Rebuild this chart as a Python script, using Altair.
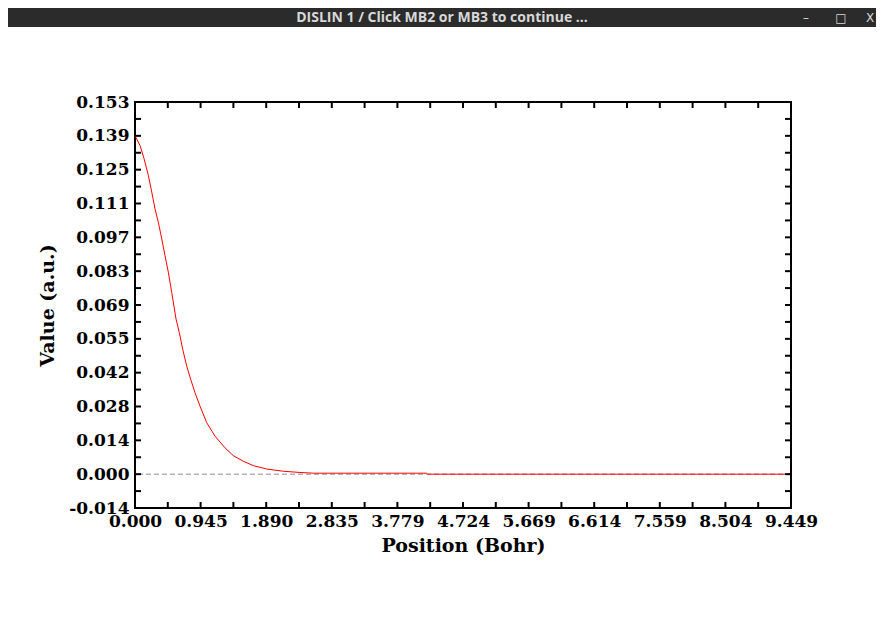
import altair as alt
import pandas as pd

# ---- data ----
position = [0.000, 0.072, 0.130, 0.192, 0.241, 0.288, 0.336, 0.385, 0.432, 0.480,
            0.529, 0.591, 0.638, 0.687, 0.745, 0.802, 0.864, 0.936, 1.033, 1.152,
            1.296, 1.416, 1.560, 1.704, 1.897, 2.136, 2.376, 2.568, 4.200, 4.215,
            9.4486]
value = [0.1387, 0.1348, 0.1294, 0.1225, 0.1157, 0.1088, 0.1033, 0.0965, 0.0896, 0.0828,
         0.0745, 0.0636, 0.0581, 0.0512, 0.0443, 0.0389, 0.0334, 0.0279, 0.0211, 0.0156,
         0.0108, 0.0076, 0.0053, 0.0035, 0.0021, 0.0012, 0.0007, 0.0004, 0.0004, 0.0,
         0.0]

x_ticks = [0.0, 0.94486, 1.88972, 2.83458, 3.77944, 4.7243, 5.66916, 6.61402, 7.55888,
           8.50374, 9.4486]
y_ticks = [-0.01387, 0.0, 0.01387, 0.02774, 0.04161, 0.05548, 0.06935, 0.08322,
           0.09709, 0.11096, 0.12483, 0.1387, 0.15257]

window_title = "DISLIN 1 / Click MB2 or MB3 to continue ..."
x_title = "Position (Bohr)"
y_title = "Value (a.u.)"

# ---- layout ----
W, H = 656, 406
TICK = 6
FONT = "DejaVu Serif"

# minor+major tick marks (every half step), excluding the frame corners
x_marks = sorted(set(x_ticks[1:-1] + [(a + b) / 2 for a, b in zip(x_ticks[:-1], x_ticks[1:])]))
y_marks = sorted(set(y_ticks[1:-1] + [(a + b) / 2 for a, b in zip(y_ticks[:-1], y_ticks[1:])]))

df = pd.DataFrame({"x": position, "y": value})
xt = pd.DataFrame({"t": x_marks})
yt = pd.DataFrame({"t": y_marks})
zero = pd.DataFrame({"v": [0.0]})
one = pd.DataFrame({"t": [window_title]})

xscale = alt.Scale(domain=[x_ticks[0], x_ticks[-1]], nice=False, zero=False)
yscale = alt.Scale(domain=[y_ticks[0], y_ticks[-1]], nice=False, zero=False)

x_axis = alt.Axis(
    values=x_ticks, format=".3f", labelFont=FONT, labelFontWeight="bold",
    labelFontSize=17, labelColor="black", labelPadding=5, ticks=False,
    domain=False, grid=False, labelFlush=False, labelOverlap=False,
    title=x_title, titleFont=FONT, titleFontSize=19, titleFontWeight="bold",
    titleColor="black", titlePadding=7,
)
y_axis = alt.Axis(
    values=y_ticks, labelExpr="replace(format(datum.value, '.3f'), '\u2212', '-')",
    labelFont=FONT, labelFontWeight="bold", labelFontSize=17, labelColor="black",
    labelPadding=6, ticks=False, domain=False, grid=False, labelFlush=False,
    labelOverlap=False, title=y_title, titleFont=FONT, titleFontSize=19,
    titleFontWeight="bold", titleColor="black", titlePadding=11,
)

# window title bar (chrome of the original screenshot)
bar = alt.Chart(one).mark_rect(color="#2b2b2b").encode(
    x=alt.value(-127), x2=alt.value(741), y=alt.value(-94), y2=alt.value(-75)
)
bar_text = alt.Chart(one).mark_text(
    font="Open Sans", fontWeight="bold", fontSize=14, color="#d8d8d8", baseline="middle"
).encode(text="t:N", x=alt.value(307), y=alt.value(-84))
buttons = alt.Chart(pd.DataFrame({"b": ["\u2013", "\u25a1", "X"], "px": [671, 706, 735]})).mark_text(
    font="DejaVu Sans", fontSize=12, color="#d8d8d8", baseline="middle"
).encode(text="b:N", x=alt.X("px:Q", scale=None), y=alt.value(-84))

zero_line = alt.Chart(zero).mark_rule(color="#8c8c8c", strokeDash=[5, 3], strokeWidth=1).encode(
    y=alt.Y("v:Q", scale=yscale, axis=y_axis)
)

curve = alt.Chart(df).mark_line(color="#ff0000", strokeWidth=1).encode(
    x=alt.X("x:Q", scale=xscale, axis=x_axis),
    y=alt.Y("y:Q", scale=yscale, axis=y_axis),
)

tick_style = dict(color="black", strokeWidth=2)
bottom = alt.Chart(xt).mark_rule(**tick_style).encode(
    x=alt.X("t:Q", scale=xscale, axis=x_axis), y=alt.value(H), y2=alt.value(H - TICK))
top = alt.Chart(xt).mark_rule(**tick_style).encode(
    x=alt.X("t:Q", scale=xscale, axis=x_axis), y=alt.value(0), y2=alt.value(TICK))
left = alt.Chart(yt).mark_rule(**tick_style).encode(
    y=alt.Y("t:Q", scale=yscale, axis=y_axis), x=alt.value(0), x2=alt.value(TICK))
right = alt.Chart(yt).mark_rule(**tick_style).encode(
    y=alt.Y("t:Q", scale=yscale, axis=y_axis), x=alt.value(W), x2=alt.value(W - TICK))

chart = alt.layer(
    bar, bar_text, buttons, zero_line, curve, bottom, top, left, right
).properties(
    width=W, height=H,
    autosize=alt.AutoSizeParams(type="none"),
    padding={"left": 127, "top": 94, "right": 85, "bottom": 90},
    background="white",
).configure_view(stroke="black", strokeWidth=2)

chart.save("out.html", embed_options={"renderer": "svg", "actions": False})
